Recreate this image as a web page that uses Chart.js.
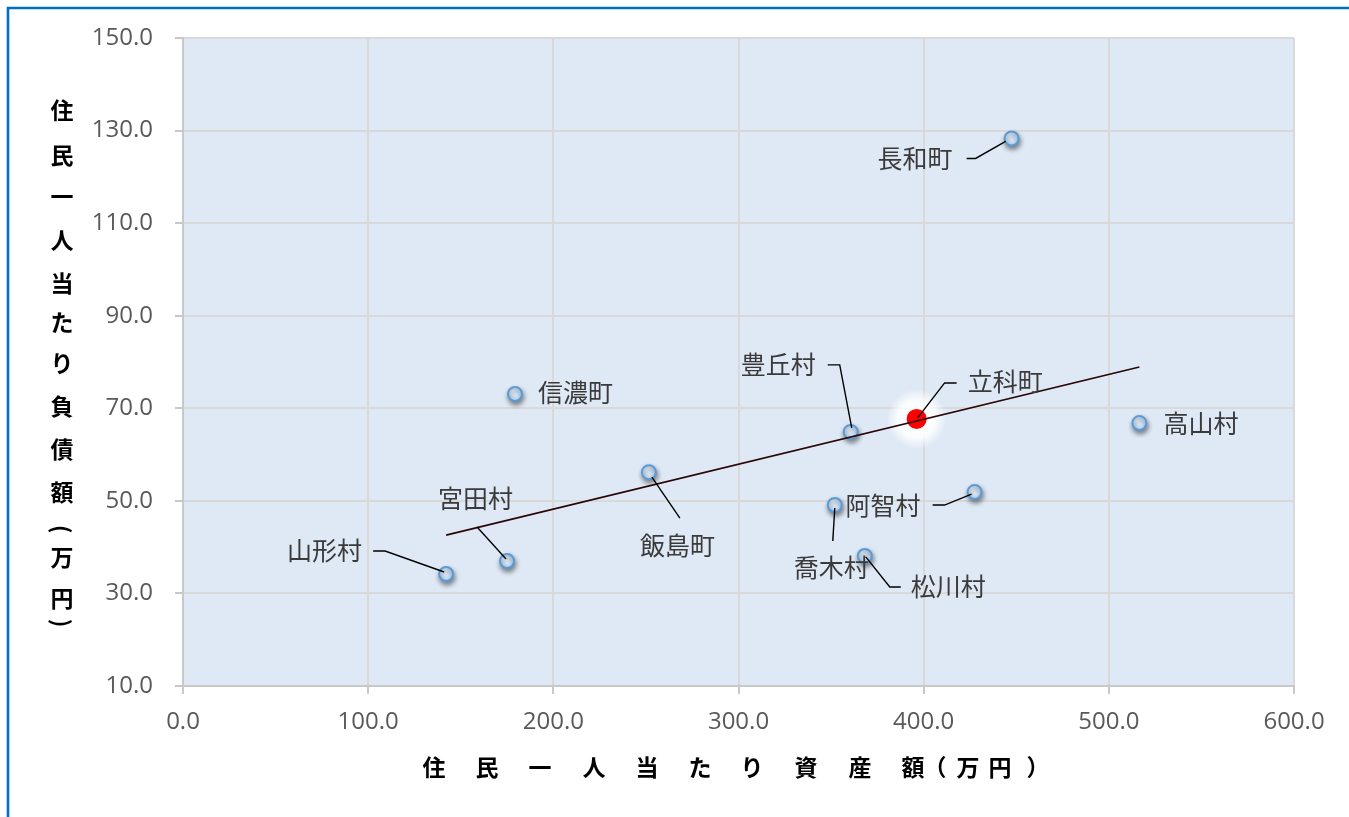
<!DOCTYPE html>
<html><head><meta charset="utf-8">
<script src="https://cdn.jsdelivr.net/npm/chart.js@4.4.1/dist/chart.umd.min.js"></script>
<style>html,body{margin:0;padding:0;background:#fff;overflow:hidden}#wrap{width:1349px;height:817px;position:relative}</style>
</head><body><div id="wrap"><canvas id="c" width="1349" height="817"></canvas></div>
<script>
// ---- data ----
const towns  = ['長和町','豊丘村','信濃町','高山村','飯島町','阿智村','喬木村','松川村','宮田村','山形村'];
const assets = [447.5, 360.6, 179.3, 516.5, 251.6, 427.5, 352.0, 368.2, 175.0, 142.1];
const debts  = [128.3, 64.9, 73.1, 66.8, 56.2, 51.9, 49.1, 38.1, 37.0, 34.2];
const focusTown  = ['立科町'];
const focusAsset = [396.2];
const focusDebt  = [67.7];
const trendAsset = [142.1, 516.5];
const trendDebt  = [42.6, 78.9];
const xTicks = [0, 100, 200, 300, 400, 500, 600];
const yTicks = [10, 30, 50, 70, 90, 110, 130, 150];
const xTitleChars = ['住','民','一','人','当','た','り','資','産','額','（','万','円','）'];
const yTitleChars = ['住','民','一','人','当','た','り','負','債','額','(','万','円',')'];

// ---- layout (pixel offsets of labels relative to their points) ----
const labelLayout = {
  '長和町': {dx:-134, dy:20,  lead:[[-45,20],[-36,20],[-6,3]]},
  '立科町': {dx:51,   dy:-37, lead:[[40,-36],[28,-36],[1,-1]]},
  '豊丘村': {dx:-110, dy:-67, lead:[[-23,-67],[-11,-67],[1,-4]]},
  '信濃町': {dx:23,   dy:-1,  lead:null},
  '高山村': {dx:24,   dy:0,   lead:null},
  '飯島町': {dx:-9,   dy:73,  lead:[[3,5],[31,46]]},
  '阿智村': {dx:-129, dy:13,  lead:[[-42,13],[-30,13],[-3,2]]},
  '喬木村': {dx:-41,  dy:62,  lead:[[-2,36],[0,3]]},
  '松川村': {dx:46,   dy:31,  lead:[[36,31],[25,31],[1,1]]},
  '宮田村': {dx:-69,  dy:-63, lead:[[-30,-34],[-1,-2]]},
  '山形村': {dx:-159, dy:-23, lead:[[-73,-23],[-61,-23],[-2,-2]]}
};
const yTitleY = [110,155,196,240,283,322,363,406,449,492,529,557,598,623];
const xTitleX = [434,487,540,594,647,700,752,806,860,913,935,968,1000,1038];

const toPts = (xs, ys) => xs.map((x, i) => ({x, y: ys[i]}));

function blueFill(c) {
  const ch = c.chart;
  if (c.type !== 'data' || !ch.chartArea) return '#cfe2f6';
  const px = ch.scales.x.getPixelForValue(c.parsed ? c.parsed.x : c.raw.x);
  const py = ch.scales.y.getPixelForValue(c.parsed ? c.parsed.y : c.raw.y);
  const g = ch.ctx.createRadialGradient(px - 2, py - 2, 0, px, py, 8);
  g.addColorStop(0, '#f2f8ff');
  g.addColorStop(1, '#b5d3f3');
  return g;
}

const bgPlugin = {
  id: 'bg',
  beforeDraw(chart) {
    const {ctx, chartArea: a} = chart;
    ctx.save();
    ctx.fillStyle = '#ffffff';
    ctx.fillRect(0, 0, chart.width, chart.height);
    ctx.fillStyle = '#dee9f5';
    ctx.fillRect(a.left, a.top, a.right - a.left, a.bottom - a.top);
    ctx.strokeStyle = '#0070c0';
    ctx.lineWidth = 2.6;
    ctx.beginPath();
    ctx.moveTo(8, chart.height + 5);
    ctx.lineTo(8, 8);
    ctx.lineTo(chart.width + 5, 8);
    ctx.stroke();
    ctx.restore();
  }
};

const shadowPlugin = {
  id: 'shadows',
  beforeDatasetDraw(chart, args) {
    const ctx = chart.ctx;
    if (args.index === 2) {
      const {x, y} = chart.scales;
      ctx.save();
      focusAsset.forEach((a, i) => {
        const px = x.getPixelForValue(a), py = y.getPixelForValue(focusDebt[i]);
        const g = ctx.createRadialGradient(px, py, 8, px, py, 30);
        g.addColorStop(0, 'rgba(255,255,255,1)');
        g.addColorStop(0.5, 'rgba(255,255,255,0.85)');
        g.addColorStop(1, 'rgba(255,255,255,0)');
        ctx.fillStyle = g;
        ctx.beginPath();
        ctx.arc(px, py, 30, 0, Math.PI * 2);
        ctx.fill();
      });
      ctx.restore();
    }
    ctx.save();
    if (args.index === 1) {
      ctx.shadowColor = 'rgba(0,0,0,0.45)';
      ctx.shadowBlur = 5;
      ctx.shadowOffsetX = 1;
      ctx.shadowOffsetY = 3;
    }
  },
  afterDatasetDraw(chart) { chart.ctx.restore(); }
};

const labelPlugin = {
  id: 'labels',
  afterDatasetsDraw(chart) {
    const {ctx, scales: {x, y}} = chart;
    const all = towns.map((t, i) => [t, assets[i], debts[i]])
      .concat(focusTown.map((t, i) => [t, focusAsset[i], focusDebt[i]]));
    ctx.save();
    all.forEach(([name, ax, dy]) => {
      const L = labelLayout[name];
      if (!L) return;
      const px = x.getPixelForValue(ax), py = y.getPixelForValue(dy);
      if (L.lead) {
        ctx.strokeStyle = '#000';
        ctx.lineWidth = 1.4;
        ctx.beginPath();
        L.lead.forEach(([ox, oy], k) => k ? ctx.lineTo(px + ox, py + oy) : ctx.moveTo(px + ox, py + oy));
        ctx.stroke();
      }
      ctx.fillStyle = '#3a3a3a';
      ctx.font = '25px "Noto Sans CJK JP"';
      ctx.textAlign = 'left';
      ctx.textBaseline = 'middle';
      ctx.fillText(name, px + L.dx, py + L.dy);
    });
    ctx.restore();
  },
  afterDraw(chart) {
    const ctx = chart.ctx;
    ctx.save();
    ctx.fillStyle = '#000';
    ctx.font = 'bold 23px "Noto Sans CJK JP"';
    ctx.textAlign = 'center';
    ctx.textBaseline = 'middle';
    yTitleChars.forEach((ch, i) => {
      if (ch === '(' || ch === ')') {
        ctx.save();
        ctx.translate(62, yTitleY[i]);
        ctx.rotate(Math.PI / 2);
        ctx.fillText(ch, 0, 0);
        ctx.restore();
      } else {
        ctx.fillText(ch, 62, yTitleY[i]);
      }
    });
    const ty = 767;
    xTitleChars.forEach((ch, i) => ctx.fillText(ch, xTitleX[i], ty));
    ctx.restore();
  }
};

const tickFont = {family: '"Open Sans"', size: 24};

new Chart(document.getElementById('c'), {
  type: 'scatter',
  data: {
    datasets: [
      {
        label: 'trend', data: toPts(trendAsset, trendDebt), showLine: true,
        borderColor: '#2a0505', borderWidth: 1.6, pointRadius: 0, order: 0
      },
      {
        label: 'towns', data: toPts(assets, debts),
        pointRadius: 7, pointBorderWidth: 2, pointBorderColor: '#5b9bd5',
        pointBackgroundColor: blueFill, order: 1
      },
      {
        label: 'focus', data: toPts(focusAsset, focusDebt),
        pointRadius: 10, pointBorderWidth: 0, pointBackgroundColor: '#ff0000',
        pointBorderColor: '#ff0000', order: 2
      }
    ]
  },
  options: {
    responsive: false,
    animation: false,
    events: [],
    layout: {padding: {left: 0, top: 38, right: 55, bottom: 0}},
    plugins: {legend: {display: false}, tooltip: {enabled: false}},
    scales: {
      x: {
        type: 'linear', min: 0, max: 600,
        afterBuildTicks: s => { s.ticks = xTicks.map(v => ({value: v})); },
        afterFit: s => { s.height = 131; },
        grid: {color: '#d9d9d9', lineWidth: 2, tickLength: 8, tickColor: '#c8c8c8'},
        border: {color: '#c8c8c8', width: 2},
        ticks: {font: tickFont, color: '#595959', padding: 14, callback: v => Number(v).toFixed(1), maxRotation: 0}
      },
      y: {
        type: 'linear', min: 10, max: 150,
        afterBuildTicks: s => { s.ticks = yTicks.map(v => ({value: v})); },
        afterFit: s => { s.width = 183; },
        grid: {color: '#d9d9d9', lineWidth: 2, tickLength: 8, tickColor: '#c8c8c8'},
        border: {color: '#c8c8c8', width: 2},
        ticks: {font: tickFont, color: '#595959', padding: 22, callback: v => Number(v).toFixed(1)}
      }
    }
  },
  plugins: [bgPlugin, shadowPlugin, labelPlugin]
});
</script>
</body></html>
